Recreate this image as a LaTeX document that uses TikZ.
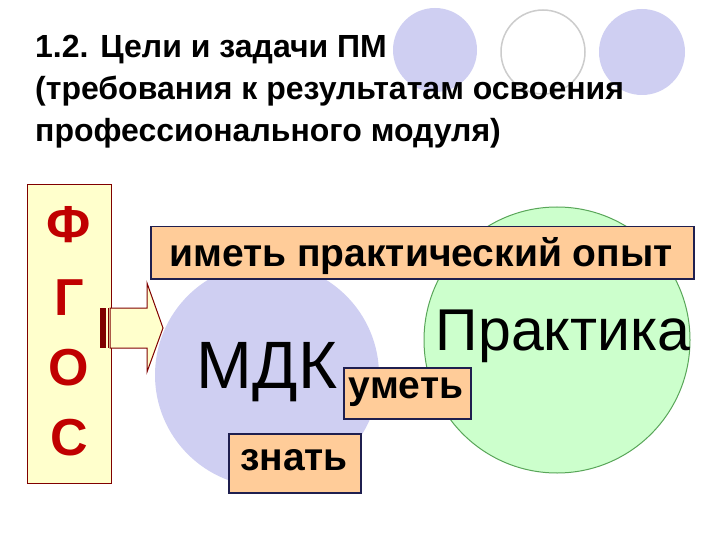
\documentclass[tikz,border=0pt]{standalone}
\usepackage{fontspec}
\setmainfont{Liberation Sans}
\definecolor{lav}{HTML}{CFCFF2}
\definecolor{dred}{HTML}{C00000}
\definecolor{bord}{HTML}{800000}
\definecolor{pale}{HTML}{FFFFCC}
\definecolor{grn}{HTML}{CCFFCC}
\definecolor{org}{HTML}{FFCC99}
\definecolor{navy}{HTML}{1F1F4F}
\begin{document}
\begin{tikzpicture}[x=1pt,y=-1pt,
  lbl/.style={draw=navy,line width=1.5pt,fill=org,inner sep=0pt,anchor=north west},
  lt/.style={font=\bfseries\fontsize{39}{39}\selectfont},
  letter/.style={text=dred,font=\bfseries\fontsize{52}{52}\selectfont}]
\useasboundingbox (0,0) rectangle (720,540);
\fill[white] (0,0) rectangle (720,540);
\fill[lav] (435,50) circle (42) (642,52) circle (43);
\draw[gray!40,line width=1.5pt,fill=white] (543,52) circle (42);
\node[anchor=north west,align=left,font=\bfseries\fontsize{32}{42}\selectfont,inner sep=0pt] (title) at (35,35)
 {1.2. Цели и задачи ПМ\\(требования к результатам освоения\\профессионального модуля)};
\draw[draw=gray!70!green,line width=1pt,fill=grn] (557,340) circle (133);
\fill[lav] (267,375) circle (112);
\draw[bord,line width=1pt,fill=pale] (27,185) rectangle (111,483);
\node[letter] (f) at (69,225) {Ф};
\node[letter] (g) at (69,298) {Г};
\node[letter] (o) at (69,368) {О};
\node[letter] (s) at (69,438) {С};
\draw[bord,line width=1pt,fill=pale] (110,308) -- (147,308) -- (147,283) -- (163,328) -- (147,372) -- (147,348) -- (110,348) -- cycle;
\fill[bord] (100,308) rectangle (106,348);
\draw[bord,line width=0.8pt] (108,308) -- (108,348);
\node[lbl,minimum width=543pt,minimum height=52pt] (opyt) at (150,226) {};
\node[lt] (opyttext) at (421,256) {иметь практический опыт};
\node[font=\fontsize{59}{59}\selectfont] (prak) at (563,336) {Практика};
\node[font=\fontsize{67}{67}\selectfont] (mdk) at (267,372) {МДК};
\node[lbl,minimum width=127pt,minimum height=51pt] (umet) at (343,367) {};
\node[lt] (umettext) at (406,392) {уметь};
\node[lbl,minimum width=132pt,minimum height=59pt] (znat) at (228,433) {};
\node[lt] (znattext) at (294,460) {знать};
\end{tikzpicture}
\end{document}
